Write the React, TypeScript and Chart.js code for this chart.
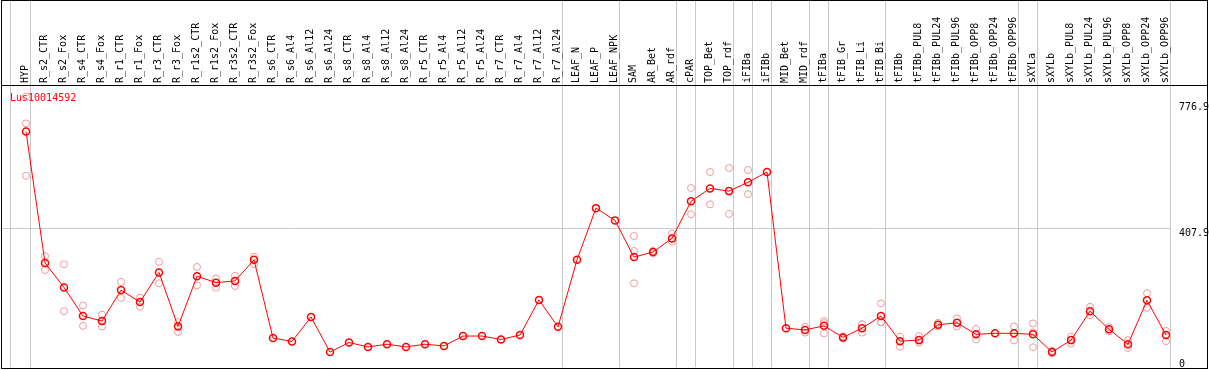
import React, { useEffect, useRef } from "react";
import { Chart, registerables } from "chart.js";

Chart.register(...registerables);

const categories = [
  "HYP", "R_s2_CTR", "R_s2_Fox", "R_s4_CTR", "R_s4_Fox", "R_r1_CTR", "R_r1_Fox", "R_r3_CTR", "R_r3_Fox",
  "R_r1s2_CTR", "R_r1s2_Fox", "R_r3s2_CTR", "R_r3s2_Fox", "R_s6_CTR", "R_s6_Al4", "R_s6_Al12", "R_s6_Al24",
  "R_s8_CTR", "R_s8_Al4", "R_s8_Al12", "R_s8_Al24", "R_r5_CTR", "R_r5_Al4", "R_r5_Al12", "R_r5_Al24",
  "R_r7_CTR", "R_r7_Al4", "R_r7_Al12", "R_r7_Al24", "LEAF_N", "LEAF_P", "LEAF_NPK", "SAM", "AR_Bet", "AR_rdf",
  "cPAR", "TOP_Bet", "TOP_rdf", "iFIBa", "iFIBb", "MID_Bet", "MID_rdf", "tFIBa", "tFIB_Gr", "tFIB_Li", "tFIB_Bi",
  "tFIBb", "tFIBb_PUL8", "tFIBb_PUL24", "tFIBb_PUL96", "tFIBb_OPP8", "tFIBb_OPP24", "tFIBb_OPP96",
  "sXYLa", "sXYLb", "sXYLb_PUL8", "sXYLb_PUL24", "sXYLb_PUL96", "sXYLb_OPP8", "sXYLb_OPP24", "sXYLb_OPP96",
];

const means = [
  692, 306, 234, 150, 135, 226, 191, 278, 119, 267, 248, 253, 315, 85, 75, 147, 44,
  72, 59, 67, 59, 67, 62, 91, 91, 81, 94, 197, 118, 315, 467, 431, 323, 338, 378,
  487, 525, 517, 543, 573, 114, 109, 121, 87, 114, 150, 76, 79, 124, 130, 96, 99, 99,
  96, 44, 79, 164, 111, 67, 196, 94,
];

const repA = [
  795, 326, 302, 181, 154, 250, 204, 309, 132, 294, 260, 268, 324, null, null, null, null,
  null, null, null, null, null, null, null, null, null, null, null, null, null, null, null, 385, 341, 392,
  526, 573, 585, 579, null, null, 118, 135, 90, 126, 187, 89, 91, 130, 143, 112, null, 119,
  128, 47, 89, 177, 117, 79, 217, 106,
];

const repB = [
  716, 285, 164, 121, 119, 203, 177, 246, 103, 240, 233, 238, 302, null, null, null, null,
  null, null, null, null, null, null, null, null, null, null, null, null, null, null, null, 341, 334, 368,
  449, 478, 450, 508, null, null, 101, 129, 84, 101, 131, 60, 72, 119, 119, 81, null, 78,
  102, 41, 69, 152, 105, 56, 174, 76,
];

const repC = [
  562, null, null, null, null, null, null, null, null, null, null, null, null, null, null, null, null,
  null, null, null, null, null, null, null, null, null, null, null, null, null, null, null, 246, null, null,
  null, null, null, null, null, null, null, 99, null, null, 132, null, null, null, null, null, null, null,
  58, null, null, null, null, null, null, null,
];

const groupEnds = [0, 28, 31, 34, 35, 37, 38, 39, 41, 42, 45, 52, 53, 60];
const yTickValues = [0, 407.9, 776.9];
const geneName = "Lus10014592";

const FONT = "'DejaVu Sans Mono', monospace";
const STEP = 19;
const X_MIN = -25 / STEP;
const X_MAX = 60 + 4 / STEP;
const SEP_OFFSET = 4 / STEP;
const LEFT_LINE = -16 / STEP;
const Y_MAX = 826;

const toPoints = (arr: (number | null)[]) =>
  arr.map((v, i) => (v == null ? null : { x: i, y: v })).filter((p) => p !== null);

const noPadding = (axis: any) => {
  axis.paddingLeft = 0;
  axis.paddingRight = 0;
  axis.paddingTop = 0;
  axis.paddingBottom = 0;
};

export default function App() {
  const ref = useRef<HTMLCanvasElement | null>(null);

  useEffect(() => {
    if (!ref.current) return;
    const framePlugin = {
      id: "frame",
      beforeDatasetsDraw(chart: any) {
        const ctx = chart.ctx;
        ctx.save();
        ctx.fillStyle = "#ff0000";
        ctx.font = `10px ${FONT}`;
        ctx.textBaseline = "alphabetic";
        ctx.textAlign = "left";
        ctx.fillText(geneName, 10, 101);
        ctx.restore();
      },
      afterDraw(chart: any) {
        const ctx = chart.ctx;
        ctx.save();
        ctx.strokeStyle = "#000";
        ctx.lineWidth = 1;
        ctx.strokeRect(1.5, 0.5, 1206, 368);
        ctx.beginPath();
        ctx.moveTo(1, 85.5);
        ctx.lineTo(1208, 85.5);
        ctx.stroke();
        ctx.restore();
      },
    };

    const repStyle = {
      showLine: false,
      pointRadius: 3.5,
      pointBorderWidth: 1,
      pointBorderColor: "#f09a9a",
      pointBackgroundColor: "rgba(0,0,0,0)",
      borderColor: "#f09a9a",
    };

    const chart = new Chart(ref.current, {
      type: "line",
      data: {
        datasets: [
          {
            label: "mean",
            data: toPoints(means) as any,
            borderColor: "#ff0000",
            borderWidth: 1,
            pointRadius: 3.5,
            pointBorderWidth: 1.5,
            pointBorderColor: "#ff0000",
            pointBackgroundColor: "rgba(0,0,0,0)",
            tension: 0,
          },
          { label: "repA", data: toPoints(repA) as any, ...repStyle },
          { label: "repB", data: toPoints(repB) as any, ...repStyle },
          { label: "repC", data: toPoints(repC) as any, ...repStyle },
        ],
      },
      options: {
        animation: false,
        responsive: false,
        devicePixelRatio: 1,
        events: [],
        layout: { autoPadding: false, padding: { left: 1, right: 0, top: 0, bottom: 3 } },
        plugins: { legend: { display: false }, tooltip: { enabled: false } },
        scales: {
          x: {
            type: "linear",
            position: "top",
            min: X_MIN,
            max: X_MAX,
            bounds: "data",
            border: { display: false },
            afterBuildTicks: (axis: any) => {
              const t: any[] = [{ value: LEFT_LINE, sep: true }];
              categories.forEach((_, i) => t.push({ value: i, sep: false }));
              groupEnds.forEach((i) => t.push({ value: i + SEP_OFFSET, sep: true }));
              axis.ticks = t;
            },
            afterFit: (axis: any) => {
              axis.height = 86;
              noPadding(axis);
            },
            grid: {
              drawTicks: true,
              tickLength: 86,
              lineWidth: 1,
              color: (c: any) => (c.tick && c.tick.sep ? "#c8c8c8" : "rgba(0,0,0,0)"),
              tickColor: (c: any) => (c.tick && c.tick.sep ? "#c8c8c8" : "rgba(0,0,0,0)"),
            },
            ticks: {
              autoSkip: false,
              minRotation: 90,
              maxRotation: 90,
              padding: -83,
              color: "#000",
              font: { family: FONT, size: 10, lineHeight: "1px" },
              callback: (v: any) => {
                const i = Number(v);
                return Number.isInteger(i) && categories[i] ? categories[i] : "";
              },
            },
          },
          y: {
            type: "linear",
            position: "right",
            min: 0,
            max: Y_MAX,
            border: { display: false },
            afterBuildTicks: (axis: any) => {
              axis.ticks = yTickValues.map((v) => ({ value: v }));
            },
            afterFit: (axis: any) => {
              axis.width = 39;
              noPadding(axis);
            },
            grid: {
              drawTicks: false,
              lineWidth: 1,
              color: (c: any) => (c.tick && c.tick.value === 407.9 ? "#c8c8c8" : "rgba(0,0,0,0)"),
            },
            ticks: {
              align: "start",
              padding: 9,
              color: "#000",
              font: (c: any) =>
                c.tick && c.tick.value === 0
                  ? { family: FONT, size: 10, lineHeight: "16px" }
                  : { family: FONT, size: 10 },
              callback: (v: any) => (Number(v) === 0 ? ["0", ""] : String(v)),
            },
          },
        },
      },
      plugins: [framePlugin],
    } as any);

    return () => chart.destroy();
  }, []);

  return (
    <div style={{ position: "absolute", left: 0, top: 0, width: 1209, height: 370, background: "#fff" }}>
      <canvas ref={ref} width={1209} height={370} style={{ display: "block" }} />
    </div>
  );
}
